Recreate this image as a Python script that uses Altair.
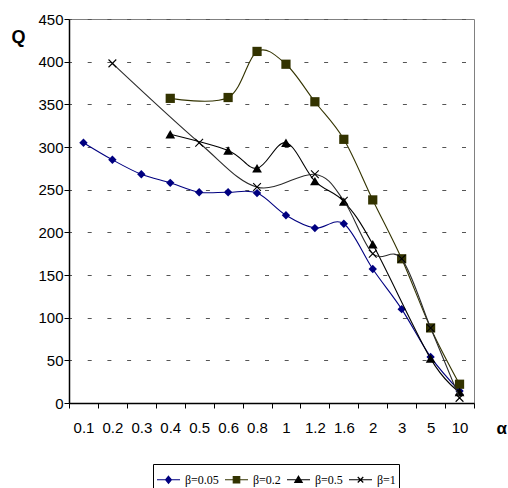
import altair as alt
import pandas as pd

# ---- data ----
alphas = ["0.1", "0.2", "0.3", "0.4", "0.5", "0.6", "0.8", "1", "1.2", "1.6", "2", "3", "5", "10"]
series = ["β=0.05", "β=0.2", "β=0.5", "β=1"]
q_b005 = [305, 285, 268, 258, 247, 247, 246, 220, 205, 210, 157, 110, 54, 14]
q_b02 = [None, None, None, 357, None, 358, 412, 397, 353, 309, 238, 169, 88, 22]
q_b05 = [None, None, None, 315, None, 296, 275, 305, 260, 236, 186, None, 52, 13]
q_b1 = [None, 398, None, None, 305, None, 253, None, 268, 237, 175, 169, 88, 6]
y_ticks = [0, 50, 100, 150, 200, 250, 300, 350, 400, 450]

values = [q_b005, q_b02, q_b05, q_b1]
line_colors = ["#000080", "#333300", "#000000", "#2b2b2b"]
mark_colors = ["#000080", "#333300", "#000000", "#000000"]

rows = []
for s, vals in zip(series, values):
    for i, v in enumerate(vals):
        if v is not None:
            rows.append({"series": s, "pos": i + 0.5, "Q": v})
df = pd.DataFrame(rows)

n = len(alphas)
label_arr = "[" + ",".join("'" + a + "'" for a in alphas) + "]"
label_expr = "(datum.value % 1) > 0 ? " + label_arr + "[floor(datum.value)] : ''"

x_scale = alt.Scale(domain=[0, n], nice=False, zero=False)
y_scale = alt.Scale(domain=[0, 450], nice=False)

x_axis = alt.Axis(
    values=[i * 0.5 for i in range(2 * n + 1)],
    labelExpr=label_expr,
    tickOpacity={"condition": {"test": "(datum.value % 1) > 0", "value": 0}, "value": 1},
    grid=False, domainColor="black", domainWidth=1.5, tickColor="black", tickSize=5,
    labelFont="Liberation Sans", labelFontSize=15, labelColor="black",
    labelPadding=12, labelFlush=False, labelOverlap=False,
    title="α", titleFont="Liberation Sans", titleFontSize=17, titleFontWeight="bold",
    titleColor="black", titleAngle=0, titleX=427, titleY=25, titleAlign="left",
    titleBaseline="middle",
)
y_axis = alt.Axis(
    values=y_ticks, grid=True, gridColor="#555555", gridDash=[4, 15.7], gridDashOffset=1.5,
    gridWidth=1, domainColor="black", domainWidth=1.5, tickColor="black", tickSize=5,
    labelFont="Liberation Sans", labelFontSize=15, labelColor="black", labelPadding=1,
    title="Q", titleFont="Liberation Sans", titleFontSize=18, titleFontWeight="bold",
    titleColor="black", titleAngle=0, titleX=-51, titleY=18, titleAlign="center",
    titleBaseline="middle",
)

xe = alt.X("pos:Q", scale=x_scale, axis=x_axis)
ye = alt.Y("Q:Q", scale=y_scale, axis=y_axis)

x_path = "M-1,-1L1,1M-1,1L1,-1"
point_styles = [
    dict(shape="diamond", filled=True, size=70),
    dict(shape="square", filled=True, size=85),
    dict(shape="triangle-up", filled=True, size=95),
    dict(shape=x_path, filled=False, size=60, strokeWidth=1.1),
]

layers = []
for s, lc, mc, ps in zip(series, line_colors, mark_colors, point_styles):
    d = df[df.series == s]
    layers.append(
        alt.Chart(d).mark_line(interpolate="cardinal", color=lc, strokeWidth=1.1).encode(x=xe, y=ye)
    )
    layers.append(
        alt.Chart(d).mark_point(color=mc, opacity=1, **ps).encode(x=xe, y=ye)
    )

legend_paths = [
    "M-1,0H1M0,-0.3L0.25,0L0,0.3L-0.25,0Z",
    "M-1,0H1M-0.28,-0.28H0.28V0.28H-0.28Z",
    "M-1,0H1M0,-0.3L0.32,0.24H-0.32Z",
    "M-1,0H1M-0.24,-0.24L0.24,0.24M-0.24,0.24L0.24,-0.24",
]
leg_props = dict(
    title=None, orient="none", legendX=84, legendY=445, direction="horizontal",
    columns=4, strokeColor="black", padding=3, labelFont="Liberation Serif",
    labelFontSize=12, labelColor="black", symbolSize=529, symbolStrokeWidth=1.2,
    labelOffset=4, columnPadding=3, fillColor="white", symbolOpacity=1,
)
leg_df = pd.DataFrame({"series": series, "pos": [0.0] * 4, "Q": [0.0] * 4})
legend_layer = alt.Chart(leg_df).transform_filter("false").mark_point(filled=False, opacity=1).encode(
    x=xe, y=ye,
    color=alt.Color("series:N", scale=alt.Scale(domain=series, range=mark_colors),
                    legend=alt.Legend(**leg_props)),
    fill=alt.Fill("series:N", scale=alt.Scale(domain=series, range=mark_colors),
                  legend=alt.Legend(**leg_props)),
    shape=alt.Shape("series:N", scale=alt.Scale(domain=series, range=legend_paths),
                    legend=alt.Legend(**leg_props)),
)
layers.append(legend_layer)

chart = alt.layer(*layers).properties(
    width=405, height=384,
    autosize=alt.AutoSizeParams(type="none"),
    padding={"left": 69, "top": 19, "right": 34, "bottom": 85},
    background="white",
).configure_view(stroke="#808080", strokeWidth=1)

chart.save("out.html", embed_options={"renderer": "svg", "actions": False})
